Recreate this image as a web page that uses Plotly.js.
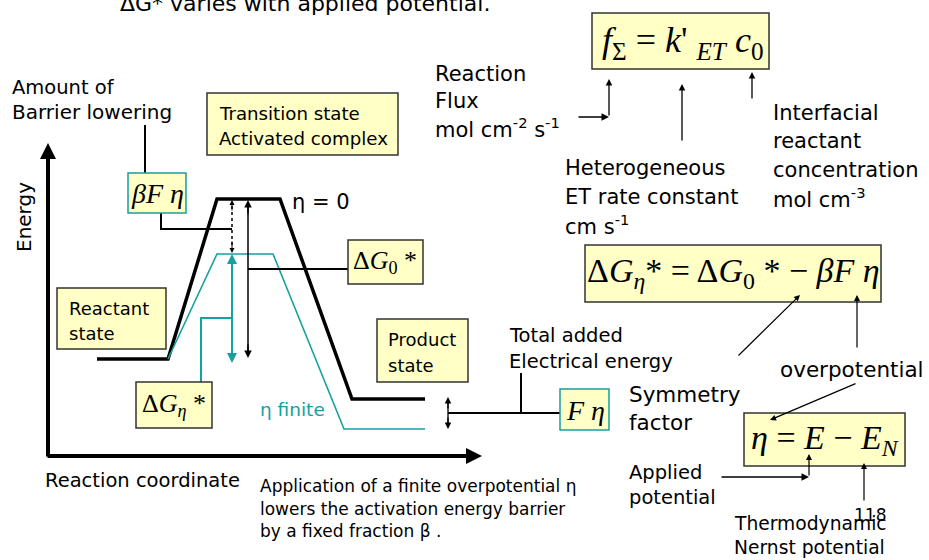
<!DOCTYPE html>
<html>
<head>
<meta charset="utf-8">
<script src="https://cdn.plot.ly/plotly-3.0.1.min.js"></script>
<style>html,body{margin:0;padding:0;background:#fff;}#chart{width:929px;height:560px;}</style>
</head>
<body>
<div id="chart"></div>
<script>
// ---- Energy profiles (reaction coordinate, energy) in diagram units ----
const profileZeroX   = [97, 168, 217, 280, 352, 425];
const profileZeroE   = [359, 359, 199, 199, 399, 399];
const profileFiniteX = [168, 217, 273, 344, 425];
const profileFiniteE = [359, 254, 254, 429, 429];

// ---- Labels ----
const titleText = "ΔG* varies with applied potential.";
const stateLabels = ["Transition state", "Activated complex", "Reactant", "state", "Product", "state"];
const fluxLabels = ["Reaction", "Flux", "mol cm<sup>-2</sup> s<sup>-1</sup>"];
const rateLabels = ["Heterogeneous", "ET rate constant", "cm s<sup>-1</sup>"];
const concLabels = ["Interfacial", "reactant", "concentration", "mol cm<sup>-3</sup>"];
const captionLines = ["Application of a finite overpotential η", "lowers the activation energy barrier", "by a fixed fraction β ."];

const TEAL = "#16a0a0";
const FILL = "#ffffc6";
const SANS = "DejaVu Sans, Verdana, sans-serif";
const SERIF = "Liberation Serif, Times New Roman, serif";

// connector polylines
const connectors = [
  {x:[145,145], y:[125,173], c:"#000", w:2},
  {x:[161,161,232], y:[213,229,229], c:"#000", w:2},
  {x:[248,348], y:[269,269], c:"#000", w:2},
  {x:[232,201,201], y:[318,318,382], c:TEAL, w:2},
  {x:[448,560], y:[413,413], c:"#000", w:2},
  {x:[521,521], y:[413,373], c:"#000", w:2},
  {x:[248,248], y:[206,352], c:"#000", w:1.5},
  {x:[232,232], y:[260,357], c:TEAL, w:2},
  {x:[448,448], y:[403,423], c:"#000", w:1.3},
];

const traces = [];
traces.push({x:profileZeroX, y:profileZeroE, mode:"lines", line:{color:"#000", width:3.5}, hoverinfo:"skip"});
traces.push({x:profileFiniteX, y:profileFiniteE, mode:"lines", line:{color:TEAL, width:1.6}, hoverinfo:"skip"});
connectors.forEach(s => traces.push({x:s.x, y:s.y, mode:"lines", line:{color:s.c, width:s.w}, hoverinfo:"skip"}));
// dotted barrier lowering line
traces.push({x:[232,232], y:[206,247], mode:"lines", line:{color:"#000", width:1.5, dash:"dot"}, hoverinfo:"skip"});

function T(x, y, text, size, o) {
  o = o || {};
  return {x:x, y:y, xref:"x", yref:"y", text:text, showarrow:false,
    xanchor:o.xanchor||"left", yanchor:"middle", textangle:o.angle||0,
    font:{family:o.family||SANS, size:size, color:o.color||"#000"}};
}
function A(tx, ty, hx, hy, o) {
  o = o || {};
  return {x:hx, y:hy, ax:tx, ay:ty, xref:"x", yref:"y", axref:"x", ayref:"y",
    text:"", showarrow:true, arrowhead:o.head||2, arrowsize:o.size||1,
    arrowwidth:o.w||1.2, arrowcolor:o.c||"#000", arrowside:o.side||"end", standoff:0, startstandoff:0};
}

const ann = [];
ann.push(T(118, 3, titleText, 22));
ann.push(T(10, 87, "Amount of", 19.5));
ann.push(T(10, 112, "Barrier lowering", 20));
ann.push(T(217, 113, stateLabels[0], 18.2));
ann.push(T(217, 138, stateLabels[1], 18.2));
ann.push(T(67, 308, stateLabels[2], 18));
ann.push(T(67, 333, stateLabels[3], 18));
ann.push(T(386, 339, stateLabels[4], 18));
ann.push(T(386, 365, stateLabels[5], 18));
ann.push(T(24, 217, "Energy", 20, {angle:-90, xanchor:"center"}));
ann.push(T(290, 202, "η = 0", 21));
ann.push(T(258, 409, "η finite", 18.5, {color:TEAL}));
ann.push(T(43, 480, "Reaction coordinate", 19.5));
captionLines.forEach((s,i) => ann.push(T(258, 486 + i*22.5, s, 17)));
ann.push(T(507, 335, "Total added", 19.5));
ann.push(T(507, 361, "Electrical energy", 19.5));
ann.push(T(627, 394, "Symmetry", 21.5));
ann.push(T(627, 422, "factor", 21.5));
fluxLabels.forEach((s,i) => ann.push(T(433, 74 + i*27, s, 21)));
rateLabels.forEach((s,i) => ann.push(T(563, 168 + i*28.5, s, 21)));
concLabels.forEach((s,i) => ann.push(T(771, 113 + i*28.3, s, 21)));
ann.push(T(778, 369, "overpotential", 21.5));
ann.push(T(627, 472, "Applied", 19.5));
ann.push(T(627, 497, "potential", 19.5));
ann.push(T(732, 523, "Thermodynamic", 18.7));
ann.push(T(732, 547, "Nernst potential", 18.7));
ann.push(T(852, 515, "118", 17));

// formulas
ann.push(T(157, 193, "<i>βF η</i>", 28, {family:SERIF, xanchor:"center"}));
ann.push(T(385, 262, "Δ<i>G</i><sub>0</sub> *", 26, {family:SERIF, xanchor:"center"}));
ann.push(T(174, 405, "Δ<i>G<sub>η</sub></i> *", 26, {family:SERIF, xanchor:"center"}));
ann.push(T(585, 410, "<i>F η</i>", 28, {family:SERIF, xanchor:"center"}));
ann.push(T(682, 42, "<i>f</i><sub>Σ</sub> = <i>k</i>' <sub><i>ET</i></sub> <i>c</i><sub>0</sub>", 36, {family:SERIF, xanchor:"center"}));
ann.push(T(733, 273, "Δ<i>G<sub>η</sub></i>* = Δ<i>G</i><sub>0</sub> * − <i>βF η</i>", 34, {family:SERIF, xanchor:"center"}));
ann.push(T(825, 440, "<i>η</i> = <i>E</i> − <i>E<sub>N</sub></i>", 34, {family:SERIF, xanchor:"center"}));

// axes arrows
ann.push(A(48, 458, 48, 143, {w:4, size:0.8}));
ann.push(A(46, 456, 482, 456, {w:4, size:0.8}));
// diagram arrowheads
ann.push(A(232, 212, 232, 200, {w:1}));
ann.push(A(232, 240, 232, 253, {w:1}));
ann.push(A(248, 215, 248, 200, {w:1.5}));
ann.push(A(248, 343, 248, 358, {w:1.5}));
ann.push(A(232, 268, 232, 254, {w:2, c:TEAL}));
ann.push(A(232, 350, 232, 363, {w:2, c:TEAL}));
ann.push(A(448, 410, 448, 397, {w:1.3}));
ann.push(A(448, 416, 448, 429, {w:1.3}));
// right side arrows
ann.push(A(577, 117, 609, 117, {head:0, w:1.5}));
ann.push(A(609, 117, 609, 79, {w:1.3}));
ann.push(A(682, 142, 682, 84, {w:1.3}));
ann.push(A(752, 100, 752, 72, {w:1.3}));
ann.push(A(737, 357, 800, 295, {w:1.2}));
ann.push(A(857, 349, 857, 295, {w:1.2}));
ann.push(A(857, 383, 770, 420, {w:1.2}));
ann.push(A(720, 477, 809, 477, {head:0, w:1.5}));
ann.push(A(809, 477, 809, 454, {w:1.2}));
ann.push(A(864, 502, 864, 463, {w:1.2}));

function box(x0, y0, x1, y1, col) {
  return {type:"rect", xref:"x", yref:"y", x0:x0, y0:y0, x1:x1, y1:y1,
    fillcolor:FILL, line:{color:col||"#333", width:1.5}, layer:"above"};
}
const shapes = [
  box(207, 93, 398, 155),
  box(57, 288, 166, 349),
  box(377, 319, 468, 382),
  box(128, 173, 186, 213, TEAL),
  box(348, 240, 423, 284),
  box(136, 382, 212, 428),
  box(560, 389, 609, 430, TEAL),
  box(592, 13, 769, 69),
  box(585, 245, 881, 302),
  box(744, 413, 905, 466),
];

const layout = {
  width:929, height:560, margin:{l:0, r:0, t:0, b:0},
  paper_bgcolor:"#fff", plot_bgcolor:"#fff", showlegend:false,
  xaxis:{range:[0,929], visible:false, fixedrange:true},
  yaxis:{range:[560,0], visible:false, fixedrange:true},
  shapes:shapes, annotations:ann
};
Plotly.newPlot("chart", traces, layout, {staticPlot:true, displayModeBar:false});
</script>
</body>
</html>
